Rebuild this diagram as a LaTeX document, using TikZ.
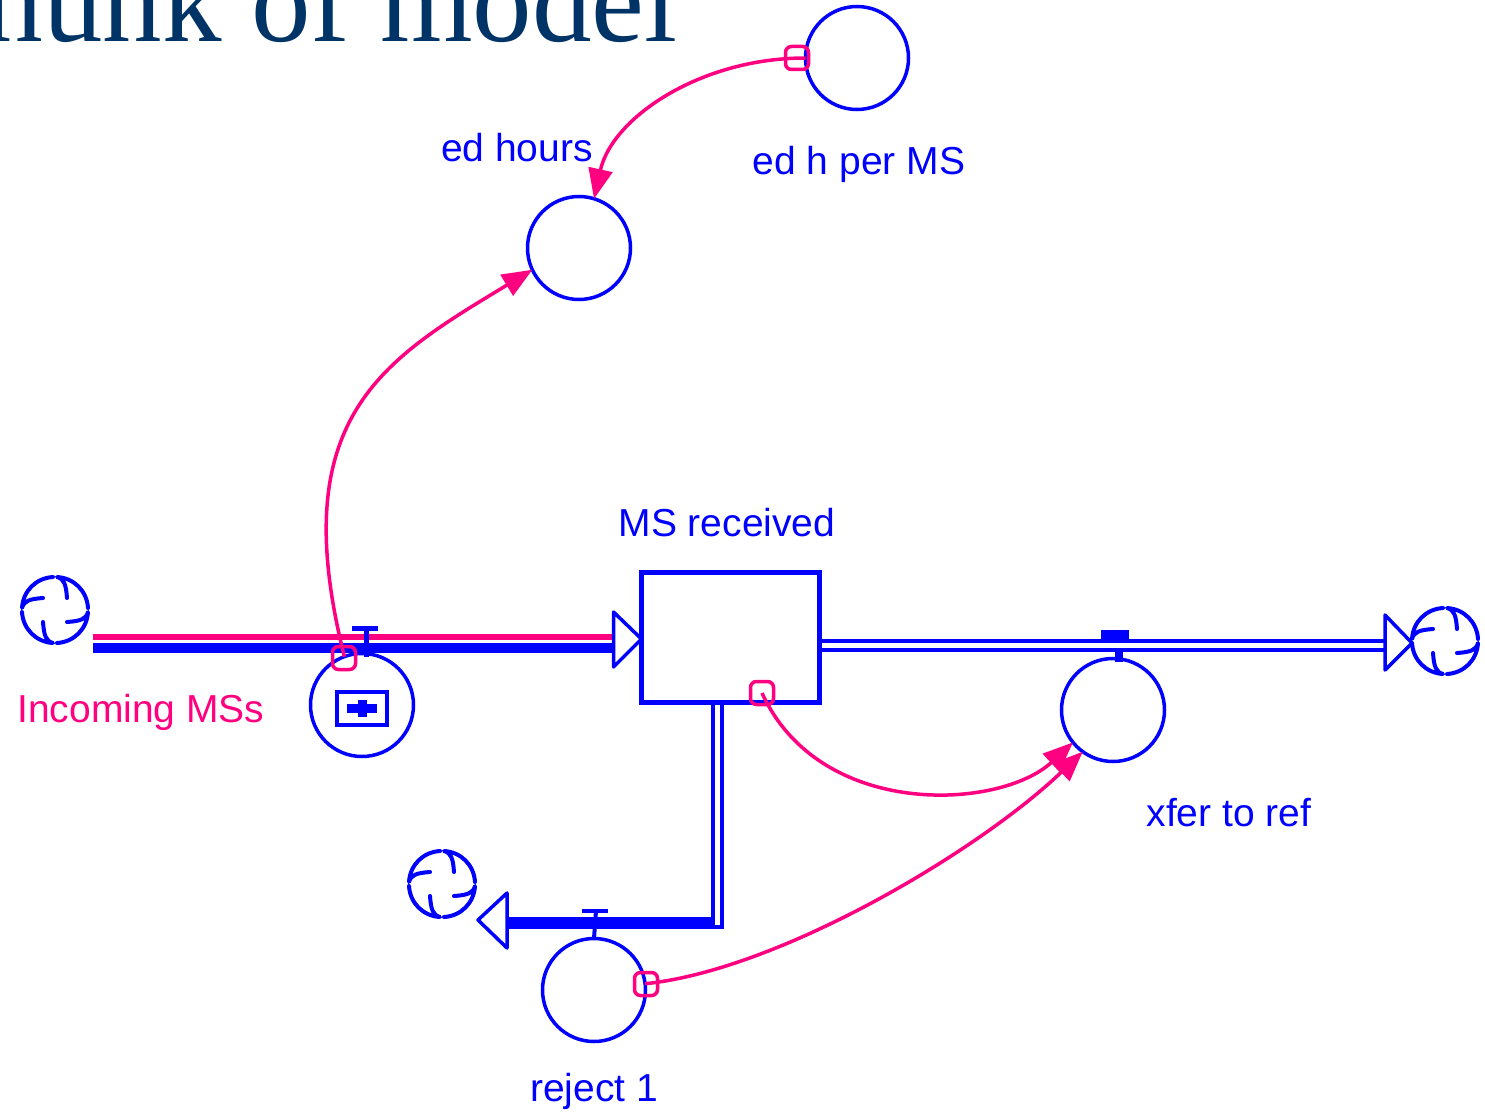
\documentclass[tikz,border=0pt]{standalone}
\usepackage{fontspec}
\setmainfont{Liberation Sans}
\newfontfamily\titlefont{Liberation Serif}
\usetikzlibrary{arrows.meta,calc}
\definecolor{sdblue}{RGB}{0,0,255}
\definecolor{sdpink}{RGB}{255,0,128}
\definecolor{navy}{RGB}{0,51,102}
\tikzset{
  aux/.style={circle,draw=sdblue,line width=3.5pt,minimum size=103pt,inner sep=0pt,outer sep=0pt},
  lab/.style={text=sdblue,font=\fontsize{39}{39}\selectfont,anchor=base,inner sep=0pt},
  conn/.style={draw=sdpink,line width=3.5pt,-{Triangle[length=30pt,width=24pt]}},
  sdhandle/.style={rectangle,draw=sdpink,line width=3.5pt,rounded corners=6pt,minimum size=23pt,inner sep=0pt},
  pipeline/.style={draw=sdblue,line width=4pt},
  pipehead/.style={draw=sdblue,line width=3.5pt,line join=round,fill=white},
  cloudanchor/.style={circle,minimum size=66pt,inner sep=0pt,outer sep=0pt},
  sdcloud/.pic={
    \draw[sdblue,line width=4pt,line cap=round,line join=round]
      (33,-2) .. controls (32,-19) and (19,-32) .. (2,-33) .. controls (9,-31) and (11,-26) .. (12,-12)
      (2,33) .. controls (19,32) and (32,19) .. (33,2) .. controls (31,9) and (26,11) .. (12,12)
      (-33,2) .. controls (-32,19) and (-19,32) .. (-2,33) .. controls (-9,31) and (-11,26) .. (-12,12)
      (-2,-33) .. controls (-19,-32) and (-32,-19) .. (-33,-2) .. controls (-31,-9) and (-26,-11) .. (-12,-12);
  }
}
\begin{document}
\begin{tikzpicture}[x=1pt,y=-1pt]
\useasboundingbox (0,0) rectangle (1485,1113);
\fill[white] (0,0) rectangle (1485,1113);

% title
\node[anchor=base east,inner sep=0pt,text=navy,font=\titlefont\fontsize{119}{119}\selectfont] (title) at (678,42) {hunk of model};

% clouds
\node[cloudanchor] (cloudL) at (55,610) {};
\node[cloudanchor] (cloudR) at (1445,641) {};
\node[cloudanchor] (cloudB) at (442,884) {};
\pic at (cloudL) {sdcloud};
\pic at (cloudR) {sdcloud};
\pic at (cloudB) {sdcloud};

% stock
\node[draw=sdblue,line width=5pt,minimum width=178pt,minimum height=130pt,inner sep=0pt,outer sep=0pt] (stock) at (730.5,637) {};
\node[lab] (stocklab) at (727,536) {MS received};

% auxiliaries / valves
\node[aux] (edh) at (857,58) {};
\node[lab] (edhlab) at (859,174) {ed h per MS};
\node[aux] (edhours) at (579,248) {};
\node[lab] (edhourslab) at (517,161) {ed hours};
\node[aux] (valveIn) at (362,705) {};
\node[lab,text=sdpink] (inlab) at (141,722) {Incoming MSs};
\node[aux] (xfer) at (1113,710) {};
\node[lab] (xferlab) at (1229,826) {xfer to ref};
\node[aux] (reject) at (594,990) {};
\node[lab] (rejectlab) at (594,1101) {reject 1};

% inflow pipe
\draw[sdpink,line width=6pt] ([xshift=5pt]cloudL.east |- 0,637) -- ([xshift=-26pt]stock.west |- 0,637);
\draw[sdblue,line width=10pt] ([xshift=5pt]cloudL.east |- 0,648) -- ([xshift=-26pt]stock.west |- 0,648);
\draw[pipehead] ([xshift=-28pt]stock.west |- 0,612) -- (stock.west |- 0,639) -- ([xshift=-28pt]stock.west |- 0,667) -- cycle;
% inflow valve T
\draw[sdblue,line width=5pt] (352,628) -- (378,628);
\draw[sdblue,line width=5pt] (366,628) -- (366,643);
\draw[sdblue,line width=5pt] (366,652) -- (366,657);
% icon inside inflow valve
\draw[sdblue,line width=4pt] (337,692) rectangle (387,725);
\fill[sdblue] (347,704) rectangle (377,713);
\fill[sdblue] (358,700) rectangle (367,717);

% outflow to right
\draw[pipeline] (stock.east |- 0,641) -- ([xshift=-24pt]cloudR.west |- 0,641);
\draw[pipeline] (stock.east |- 0,650) -- ([xshift=-24pt]cloudR.west |- 0,650);
\draw[pipehead] ([xshift=-27pt]cloudR.west |- 0,615) -- (cloudR.west |- 0,643) -- ([xshift=-27pt]cloudR.west |- 0,670) -- cycle;
\fill[sdblue] (1101,630) rectangle (1129,641);
\fill[sdblue] (1115,650) rectangle (1123,662);

% outflow down / left
\draw[pipeline] (712.5,0 |- stock.south) -- (712.5,921);
\draw[pipeline] (722,0 |- stock.south) -- (722,927) -- (712,927);
\fill[sdblue] (505,917) rectangle (715,929);
\draw[pipehead] (507,893) -- ([xshift=3pt]cloudB.east |- 0,920) -- (507,948) -- cycle;
\draw[sdblue,line width=4pt] (582,911) -- (608,911);
\draw[sdblue,line width=4pt] (596,911) -- (reject.north);

% connectors
\coordinate (stockH) at (762,693);
\draw[conn] (edh.180) .. controls (700,58) and (612,118) .. (edhours.73);
\draw[conn] (valveIn.110) .. controls (284,417) and (383,360) .. (edhours.205);
\draw[conn] (stockH) .. controls (820,820) and (1000,810) .. (xfer.219);
\draw[conn] (reject.7) .. controls (780,970) and (980,850) .. (xfer.234);

% handles
\node[sdhandle] (h1) at (797,58) {};
\node[sdhandle] (h2) at (344,658) {};
\node[sdhandle] (h3) at (stockH) {};
\node[sdhandle] (h4) at (646,984) {};
\end{tikzpicture}
\end{document}
